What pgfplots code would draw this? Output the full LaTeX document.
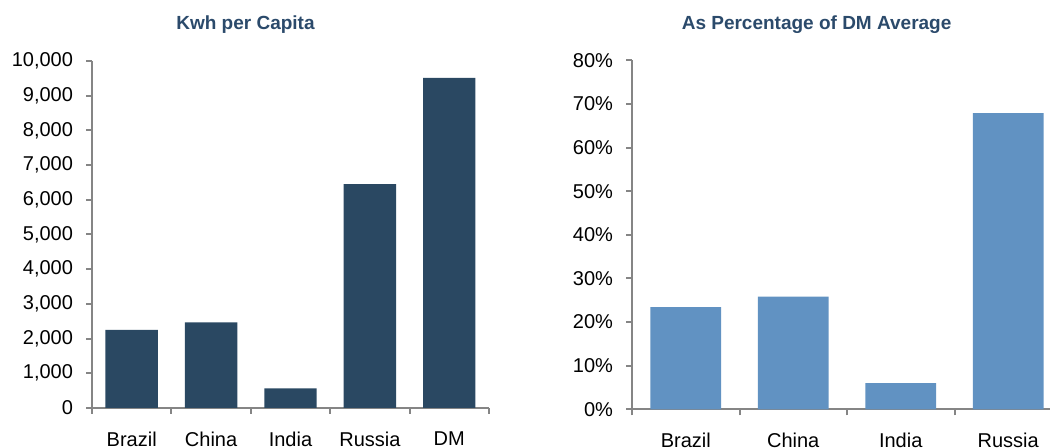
\documentclass[border=0pt]{standalone}
\usepackage{pgfplots}
\pgfplotsset{compat=1.18}
\usepackage{fontspec}
\setmainfont{Liberation Sans}
\definecolor{barnavy}{HTML}{2A4862}
\definecolor{barblue}{HTML}{6192C2}
\definecolor{titleblue}{HTML}{2B4A6B}
\definecolor{axisgray}{HTML}{858585}
\pgfplotsset{
  mystyle/.style={
    scale only axis,
    axis x line*=bottom, axis y line*=left,
    axis line style={axisgray, line width=1.1pt, -},
    tick align=outside,
    major tick length=3pt, minor tick length=3pt,
    ytick style={axisgray, line width=1pt},
    xtick style={draw=none},
    minor x tick style={axisgray, line width=1pt, draw=axisgray},
    ticklabel style={font=\fontsize{10}{12}\selectfont, text=black},
    ymin=0, ybar, bar width=0.66,
    /pgf/number format/assume math mode=true,
    scaled y ticks=false,
    yticklabel style={xshift=-3pt},
    xticklabel style={yshift=-5.5pt},
    clip=false
  }
}
\begin{document}
\begin{tikzpicture}
\useasboundingbox (0,0) rectangle (525pt,224pt);
\clip (0,0) rectangle (525pt,224pt);
\begin{axis}[mystyle,
  at={(46pt,20pt)}, anchor=south west,
  width=198.5pt, height=173.5pt,
  xmin=-0.5, xmax=4.5, ymax=10000,
  ytick={0,1000,...,10000},
  xtick={0,1,2,3,4},
  xticklabels={Brazil,China,India,Russia,DM},
  minor xtick={-0.5,0.5,1.5,2.5,3.5,4.5},
  /pgf/number format/1000 sep={,}]
\addplot[fill=barnavy, draw=none] coordinates {(0,2250) (1,2470) (2,567) (3,6450) (4,9510)};
\end{axis}
\begin{axis}[mystyle,
  at={(316pt,19.35pt)}, anchor=south west,
  width=215pt, height=174.5pt,
  xmin=-0.5, xmax=3.5, ymax=80,
  ytick={0,10,...,80},
  yticklabel={\pgfmathprintnumber{\tick}\%},
  xtick={0,1,2,3},
  xticklabels={Brazil,China,India,Russia},
  minor xtick={-0.5,0.5,1.5,2.5,3.5}]
\addplot[fill=barblue, draw=none] coordinates {(0,23.4) (1,25.8) (2,6.0) (3,67.9)};
\end{axis}
\node[font=\bfseries\fontsize{9.5}{11}\selectfont, text=titleblue] at (122.75pt,211.5pt) {Kwh per Capita};
\node[font=\bfseries\fontsize{9.5}{11}\selectfont, text=titleblue] at (408.3pt,211.5pt) {As Percentage of DM Average};
\end{tikzpicture}
\end{document}
